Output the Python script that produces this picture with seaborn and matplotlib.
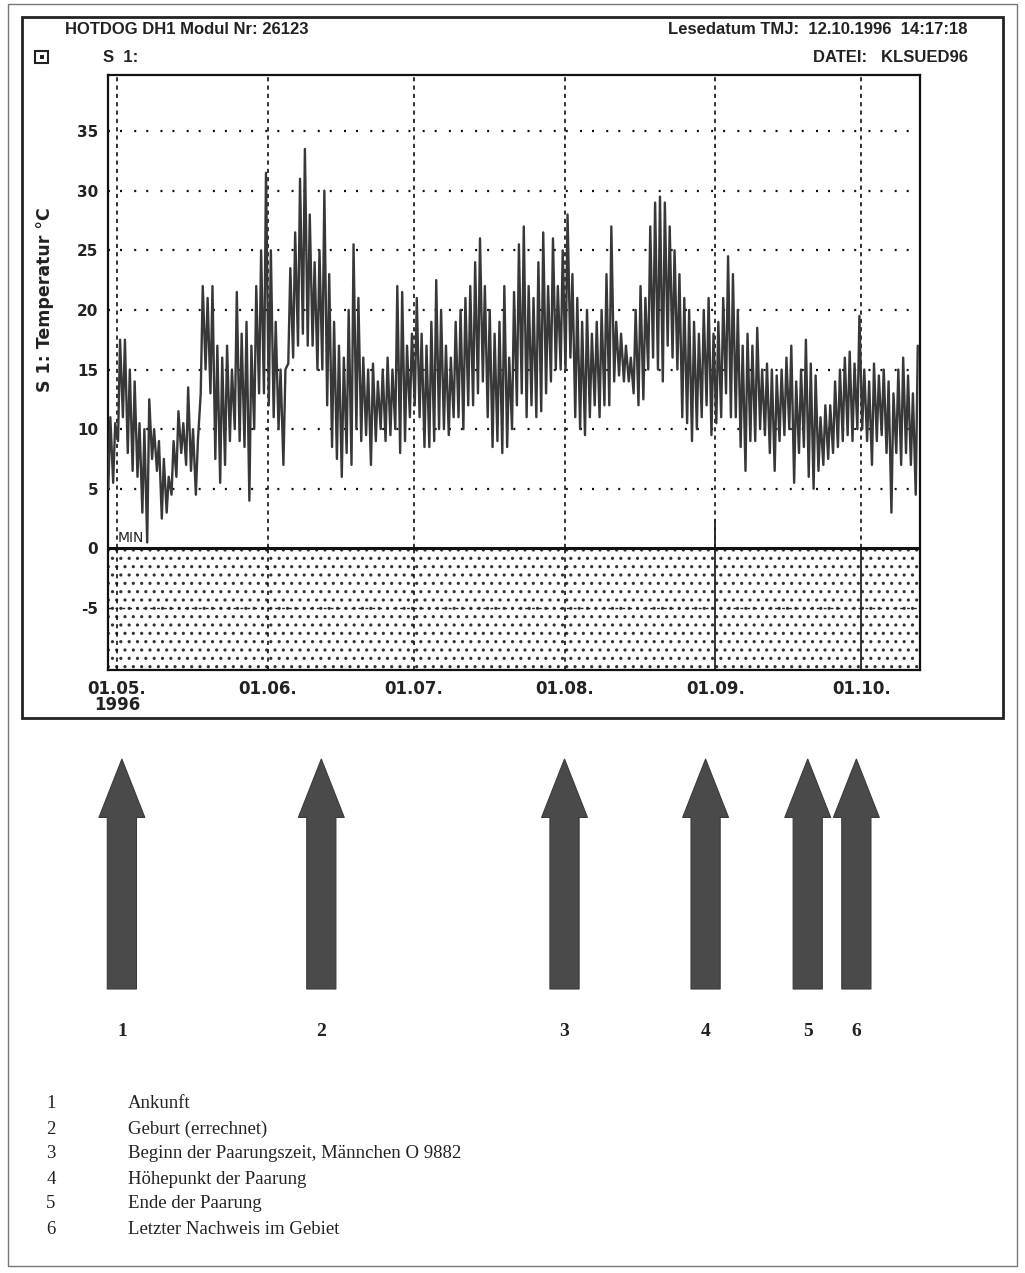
import numpy as np
import pandas as pd
import matplotlib
matplotlib.use('Agg')
import matplotlib.pyplot as plt
import matplotlib.dates as mdates
from matplotlib.patches import Rectangle
import seaborn as sns

sns.set_style('white')
plt.rcParams['hatch.linewidth'] = 1.1

# --- data: daily min / max of logger S 1 (°C) ---
apr_hi = [11, 10.5]
apr_lo = [5, 5.5]
may_hi = [17.5, 17.5, 15, 14, 10.5, 10, 12.5, 10, 9, 7.5, 6, 9, 11.5, 10.5, 13.5, 10,
          9, 22, 21, 22, 17, 16, 17, 15, 21.5, 18, 19, 17, 22, 25, 31.5]
may_lo = [9, 11, 8, 6.5, 6, 3, 0.5, 7.5, 6.5, 2.5, 3, 4.5, 6, 8, 7, 6.5,
          4.5, 13, 15, 13, 7.5, 5.5, 7, 9, 10, 9, 8.5, 4, 10, 13, 13]
jun_hi = [25, 19, 15, 15, 23.5, 26.5, 31, 33.5, 28, 24, 25, 30, 23, 19, 17,
          16, 20, 25.5, 21, 16, 15, 15.5, 14, 15, 16, 15, 22, 21.5, 17, 18]
jun_lo = [12, 11, 10, 7, 15.5, 16, 17, 18, 17, 17, 15, 15, 12, 8.5, 7.5,
          6, 8, 7, 10, 9, 9.5, 7, 9, 10, 9, 9.5, 10, 8, 9, 11]
jul_hi = [21, 18, 17, 19, 22.5, 20, 17, 16, 19, 20, 21, 22, 24, 26, 22, 20,
          18, 19, 22, 16, 21.5, 25.5, 27, 22, 21, 24, 26.5, 22, 26, 22, 25]
jul_lo = [12, 11, 8.5, 8.5, 9, 10, 10, 9.5, 11, 11, 10, 12, 12, 13, 14, 11,
          8.5, 9, 8, 8.5, 10, 12, 13, 11, 12, 11, 11.5, 13, 14, 15, 15]
aug_hi = [28, 23, 21, 19, 20, 18, 19, 20, 23, 27, 19, 18, 17, 16, 20, 22,
          21, 27, 29, 29.5, 29, 27, 25, 23, 21, 20, 19, 18, 20, 21, 18]
aug_lo = [15, 16, 11, 10, 9.5, 11, 12, 11, 12, 12, 14, 14.5, 14, 14, 13, 12,
          12.5, 15, 16, 15, 14, 17, 16, 15, 11, 10.5, 9, 10, 11, 12, 9.5]
sep_hi = [19, 21, 24.5, 23, 20, 17, 18, 17, 18.5, 15, 15.5, 15, 14.5, 15, 16,
          17, 14, 15, 17.5, 15.5, 14.5, 11, 12, 12, 14, 15, 16, 16.5, 15.5, 19.5]
sep_lo = [10.5, 11, 13, 11, 11, 8.5, 6.5, 9, 9, 10, 9.5, 8, 6.5, 9, 9.5,
          10, 5.5, 8, 8.5, 6, 5, 6.5, 7, 7.5, 8, 8.5, 9, 9.5, 9, 10]
oct_hi = [15, 14, 15.5, 14.5, 15, 14, 13, 15, 16, 14.5, 13, 17]
oct_lo = [10, 9, 7, 9, 9.5, 8, 3, 8, 7, 8, 7, 4.5]

first_day = '1996-04-29'
month_starts = ['1996-05-01', '1996-06-01', '1996-07-01', '1996-08-01', '1996-09-01', '1996-10-01']
month_labels = ['01.05.\n1996', '01.06.', '01.07.', '01.08.', '01.09.', '01.10.']
y_ticks = [-5, 0, 5, 10, 15, 20, 25, 30, 35]
grid_y = [5, 10, 15, 20, 25, 30, 35]

event_dates = ['1996-05-02', '1996-06-12', '1996-08-01', '1996-08-30', '1996-09-20', '1996-09-30']
event_nums = ['1', '2', '3', '4', '5', '6']
event_text = ['Ankunft', 'Geburt (errechnet)', 'Beginn der Paarungszeit, Männchen O 9882',
              'Höhepunkt der Paarung', 'Ende der Paarung', 'Letzter Nachweis im Gebiet']

# build the time series: low in the early morning, high in the afternoon
daily_hi = apr_hi + may_hi + jun_hi + jul_hi + aug_hi + sep_hi + oct_hi
daily_lo = apr_lo + may_lo + jun_lo + jul_lo + aug_lo + sep_lo + oct_lo
days = pd.date_range(first_day, periods=len(daily_hi), freq='D')
rows = []
for d, lo, hi in zip(days, daily_lo, daily_hi):
    rows.append((d + pd.Timedelta(hours=5), lo))
    rows.append((d + pd.Timedelta(hours=15), hi))
df = pd.DataFrame(rows, columns=['Zeit', 'Temperatur'])

W, H = 1025, 1273
fig = plt.figure(figsize=(W / 100, H / 100), dpi=100)


def fx(px):
    return px / W


def fy(py):
    return 1 - py / H


# frames
fig.add_artist(Rectangle((fx(8), fy(1266)), fx(1017) - fx(8), (1266 - 4) / H,
                         transform=fig.transFigure, fill=False, lw=1.0, ec='#777777'))
fig.add_artist(Rectangle((fx(22), fy(718)), fx(1003) - fx(22), (718 - 17) / H,
                         transform=fig.transFigure, fill=False, lw=2.0, ec='#222222'))

ax = fig.add_axes([fx(108), fy(670), fx(920) - fx(108), (670 - 75) / H])
ymin, ymax = -10.2, 39.7
x0 = mdates.date2num(pd.Timestamp('1996-04-29 03:30'))
x1 = mdates.date2num(pd.Timestamp('1996-10-13 02:00'))
mnum = mdates.date2num(pd.to_datetime(month_starts))

# stippled area below zero
ax.axhspan(ymin, 0, facecolor='white', edgecolor='#333333', hatch='..', lw=0, zorder=0.5)
ax.hlines(-5, x0, x1, colors='#222222', linestyles=(0, (2, 3)), lw=1.0, zorder=1)

# dotted grid
ax.hlines(grid_y, x0, x1, colors='#111111', linestyles=(0, (0.9, 4.5, 0.9, 5.5)), lw=1.6, zorder=1)
ax.vlines(mnum, 0, ymax, colors='#111111', linestyles=(0, (2.5, 2.5)), lw=1.2, zorder=1)
ax.vlines(mnum[:4], ymin, 0, colors='#111111', linestyles=(0, (2.5, 2.5)), lw=1.2, zorder=1)
ax.vlines(mnum[4:], ymin, 0, colors='#222222', lw=1.3, zorder=1)
ax.vlines(mnum[4], 0, 2.5, colors='#222222', lw=1.3, zorder=1)

sns.lineplot(data=df, x='Zeit', y='Temperatur', ax=ax, color='#383838', lw=1.7,
             estimator=None, zorder=3)

ax.axhline(0, color='#111111', lw=2.2, zorder=4)
ax.set_xlim(x0, x1)
ax.set_ylim(ymin, ymax)
ax.set_xticks(mnum)
ax.set_xticklabels(month_labels, fontsize=12, fontweight='bold', color='#222222', linespacing=0.85)
ax.set_yticks(y_ticks)
ax.set_yticklabels([str(v) for v in y_ticks], fontsize=11, fontweight='bold', color='#222222')
ax.tick_params(length=0, pad=7)
ax.set_xlabel('')
ax.set_ylabel('')
for s in ax.spines.values():
    s.set_color('#111111')
    s.set_linewidth(1.6)
ax.text(0.012, 0.25, 'MIN', transform=ax.get_yaxis_transform(), fontsize=10, color='#222222',
        va='bottom', ha='left', zorder=5)
fig.text(fx(45), fy(300), 'S 1: Temperatur °C', rotation=90, fontsize=12.5, fontweight='bold',
         color='#222222', ha='center', va='center')

# header
hfont = ['Liberation Sans Narrow', 'Liberation Sans', 'DejaVu Sans']
fig.text(fx(65), fy(30), 'HOTDOG DH1 Modul Nr: 26123', fontsize=12, family=hfont,
         fontweight='bold', color='#222222', va='center')
fig.text(fx(968), fy(30), 'Lesedatum TMJ:  12.10.1996  14:17:18', fontsize=12, family=hfont,
         fontweight='bold', color='#222222', va='center', ha='right')
fig.text(fx(103), fy(57), 'S  1:', fontsize=12, family=hfont, fontweight='bold',
         color='#222222', va='center')
fig.text(fx(968), fy(57), 'DATEI:   KLSUED96', fontsize=12, family=hfont, fontweight='bold',
         color='#222222', va='center', ha='right')
fig.add_artist(Rectangle((fx(35), fy(63)), 13 / W, 12 / H, transform=fig.transFigure,
                         fill=False, lw=1.5, ec='#222222'))
fig.add_artist(Rectangle((fx(39.5), fy(59)), 4 / W, 4 / H, transform=fig.transFigure,
                         fill=True, lw=0, fc='#222222'))

# event arrows below the chart, on the same time axis
ax2 = fig.add_axes([fx(108), fy(995), fx(920) - fx(108), (995 - 755) / H], sharex=ax)
ax2.set_ylim(0, 1)
ax2.axis('off')
enum = mdates.date2num(pd.to_datetime(event_dates))
for xe, n in zip(enum, event_nums):
    ax2.annotate('', xy=(xe, 0.983), xytext=(xe, 0.025),
                 xycoords=('data', 'axes fraction'), textcoords=('data', 'axes fraction'),
                 arrowprops=dict(arrowstyle='simple,head_length=4.2,head_width=3.3,tail_width=2.1',
                                 mutation_scale=10, fc='#4a4a4a', ec='#3a3a3a', lw=0.8,
                                 shrinkA=0, shrinkB=0))
    ax2.text(xe, -0.15, n, fontsize=14, family=['Liberation Serif'], fontweight='bold',
             ha='center', va='center', color='#222222')

# legend list
for i, (n, t) in enumerate(zip(event_nums, event_text)):
    yy = 1104 + i * 25
    fig.text(fx(51), fy(yy), n, fontsize=13.5, family=['Liberation Serif'], va='center', ha='center',
             color='#222222')
    fig.text(fx(128), fy(yy), t, fontsize=13.5, family=['Liberation Serif'], va='center', ha='left',
             color='#222222')

fig.savefig('out.png', dpi=100)
